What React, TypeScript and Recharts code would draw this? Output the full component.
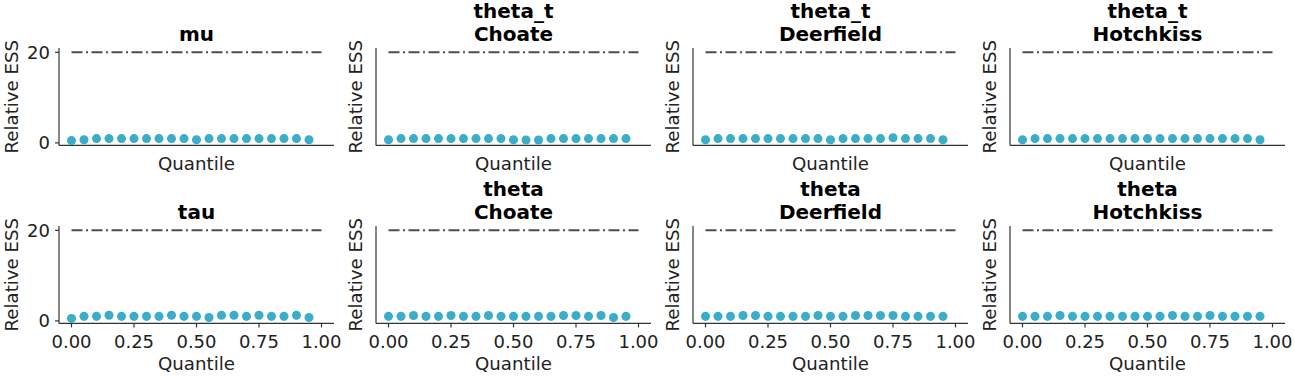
import React from 'react';
import { ScatterChart, Scatter, XAxis, YAxis, ReferenceLine, Label } from 'recharts';

// ---------- data ----------
const quantiles = [0, 0.05, 0.1, 0.15, 0.2, 0.25, 0.3, 0.35, 0.4, 0.45, 0.5, 0.55, 0.6, 0.65, 0.7, 0.75, 0.8, 0.85, 0.9, 0.95];

const muEss = [0.5, 0.7, 0.95, 0.95, 0.95, 0.95, 0.95, 0.95, 0.95, 0.95, 0.7, 0.95, 0.95, 0.95, 0.95, 0.95, 0.95, 0.95, 0.95, 0.7];
const thetaTChoateEss = [0.7, 0.95, 0.95, 0.95, 0.95, 0.95, 0.95, 0.95, 0.95, 0.95, 0.7, 0.65, 0.65, 0.95, 0.95, 0.95, 0.95, 0.95, 0.95, 0.95];
const thetaTDeerfieldEss = [0.7, 0.95, 0.95, 0.95, 0.95, 0.95, 0.95, 0.95, 0.95, 0.95, 0.7, 0.95, 0.95, 0.95, 0.95, 1.15, 0.95, 0.95, 0.95, 0.7];
const thetaTHotchkissEss = [0.7, 0.95, 0.95, 0.95, 0.95, 0.95, 0.95, 0.95, 0.95, 0.95, 0.95, 0.95, 0.95, 0.95, 0.95, 0.95, 0.95, 0.95, 0.95, 0.7];
const tauEss = [0.55, 1.0, 1.0, 1.25, 1.0, 1.0, 1.0, 1.0, 1.25, 1.0, 1.0, 0.75, 1.25, 1.25, 1.0, 1.25, 1.0, 1.0, 1.25, 0.75];
const thetaChoateEss = [1.0, 1.0, 1.2, 1.0, 1.0, 1.2, 1.0, 1.0, 1.2, 1.0, 1.0, 1.0, 1.0, 1.0, 1.2, 1.2, 1.0, 1.2, 0.75, 1.0];
const thetaDeerfieldEss = [1.0, 1.0, 1.0, 1.2, 1.2, 1.0, 1.0, 1.0, 1.0, 1.2, 1.0, 1.0, 1.2, 1.2, 1.2, 1.2, 1.0, 1.0, 1.0, 1.0];
const thetaHotchkissEss = [1.0, 1.0, 1.0, 1.2, 1.0, 1.0, 1.0, 1.0, 1.0, 1.0, 1.0, 1.0, 1.2, 1.0, 1.0, 1.2, 1.0, 1.0, 1.0, 1.0];

const panelTitles = [
  ['mu'],
  ['theta_t', 'Choate'],
  ['theta_t', 'Deerfield'],
  ['theta_t', 'Hotchkiss'],
  ['tau'],
  ['theta', 'Choate'],
  ['theta', 'Deerfield'],
  ['theta', 'Hotchkiss'],
];
const panelSeries = [
  muEss, thetaTChoateEss, thetaTDeerfieldEss, thetaTHotchkissEss,
  tauEss, thetaChoateEss, thetaDeerfieldEss, thetaHotchkissEss,
];
const xTicks = [0, 0.25, 0.5, 0.75, 1];
const yTicks = [0, 20];
const referenceEss = 20;
const xLabel = 'Quantile';
const yLabel = 'Relative ESS';

// ---------- layout ----------
const COL_LEFTS = [58.5, 375.8, 692.5, 1009.8];
const ROW_TOPS = [48.4, 225.7];
const PLOT_W = 275;
const PLOT_H = 97.4;
const Y_AXIS_W = 70;
const M_TOP = 60;
const M_RIGHT = 20;
const X_AXIS_H = 60;
const CHART_W = Y_AXIS_W + PLOT_W + M_RIGHT;
const CHART_H = M_TOP + PLOT_H + X_AXIS_H;

const FONT = "'DejaVu Sans', Verdana, sans-serif";
const TEXT = '#222222';
const SPINE = '#333333';
const DOT = '#3aadc8';
const REF = '#4d4d4d';
const TICK_FS = 18;
const LABEL_FS = 18.2;
const TITLE_FS = 20;

function Panel({ index }: { index: number }) {
  const row = Math.floor(index / 4);
  const col = index % 4;
  const data = quantiles.map((q, i) => ({ q, ess: panelSeries[index][i] }));
  const title = panelTitles[index];
  const plotCx = Y_AXIS_W + PLOT_W / 2;
  const plotBottom = M_TOP + PLOT_H;

  const renderXLabel = () => (
    <text
      x={plotCx}
      y={plotBottom + (row === 0 ? 24.5 : 46.5)}
      textAnchor="middle"
      fontSize={LABEL_FS}
      fontFamily={FONT}
      fill={TEXT}
    >
      {xLabel}
    </text>
  );

  const renderYLabel = () => {
    const cx = Y_AXIS_W - (col === 0 ? 47.5 : 20.5);
    const cy = M_TOP + PLOT_H / 2;
    const baseY = M_TOP - 7;
    return (
      <g>
        <text
          x={cx}
          y={cy}
          transform={`rotate(-90, ${cx}, ${cy})`}
          textAnchor="middle"
          dominantBaseline="central"
          fontSize={LABEL_FS}
          fontFamily={FONT}
          fill={TEXT}
        >
          {yLabel}
        </text>
        {title.map((line, i) => (
          <text
            key={i}
            x={plotCx}
            y={baseY - (title.length - 1 - i) * 23}
            textAnchor="middle"
            fontSize={TITLE_FS}
            fontWeight="bold"
            fontFamily={FONT}
            fill="#000"
          >
            {line}
          </text>
        ))}
      </g>
    );
  };

  return (
    <div style={{ position: 'absolute', left: COL_LEFTS[col] - Y_AXIS_W, top: ROW_TOPS[row] - M_TOP }}>
      <ScatterChart
        width={CHART_W}
        height={CHART_H}
        margin={{ top: M_TOP, right: M_RIGHT, bottom: 0, left: 0 }}
      >
        <XAxis
          dataKey="q"
          type="number"
          domain={[-0.05, 1.05]}
          allowDataOverflow
          ticks={xTicks}
          interval={0}
          tickFormatter={(v: number) => v.toFixed(2)}
          tick={row === 1 ? { fill: TEXT, fontSize: TICK_FS, fontFamily: FONT } : false}
          tickSize={4}
          tickMargin={7.5}
          height={X_AXIS_H}
          axisLine={{ stroke: SPINE, strokeWidth: 1.2 }}
          tickLine={{ stroke: SPINE, strokeWidth: 1.2 }}
        >
          <Label content={renderXLabel} />
        </XAxis>
        <YAxis
          dataKey="ess"
          type="number"
          domain={[-0.55, 20.95]}
          allowDataOverflow
          ticks={yTicks}
          interval={0}
          tick={col === 0 ? { fill: TEXT, fontSize: TICK_FS, fontFamily: FONT } : false}
          tickSize={4}
          tickMargin={5}
          width={Y_AXIS_W}
          axisLine={{ stroke: SPINE, strokeWidth: 1.2 }}
          tickLine={{ stroke: SPINE, strokeWidth: 1.2 }}
        >
          <Label content={renderYLabel} />
        </YAxis>
        <ReferenceLine
          segment={[{ x: 0, y: referenceEss }, { x: 1, y: referenceEss }]}
          stroke={REF}
          strokeWidth={2}
          strokeDasharray="11 3.5 2 3.5"
        />
        <Scatter data={data} fill={DOT} isAnimationActive={false} />
      </ScatterChart>
    </div>
  );
}

export default function App() {
  return (
    <div
      style={{
        position: 'absolute',
        left: 0,
        top: 0,
        width: 1295,
        height: 376,
        background: '#ffffff',
        overflow: 'hidden',
      }}
    >
      {panelSeries.map((_, i) => (
        <Panel key={i} index={i} />
      ))}
    </div>
  );
}
